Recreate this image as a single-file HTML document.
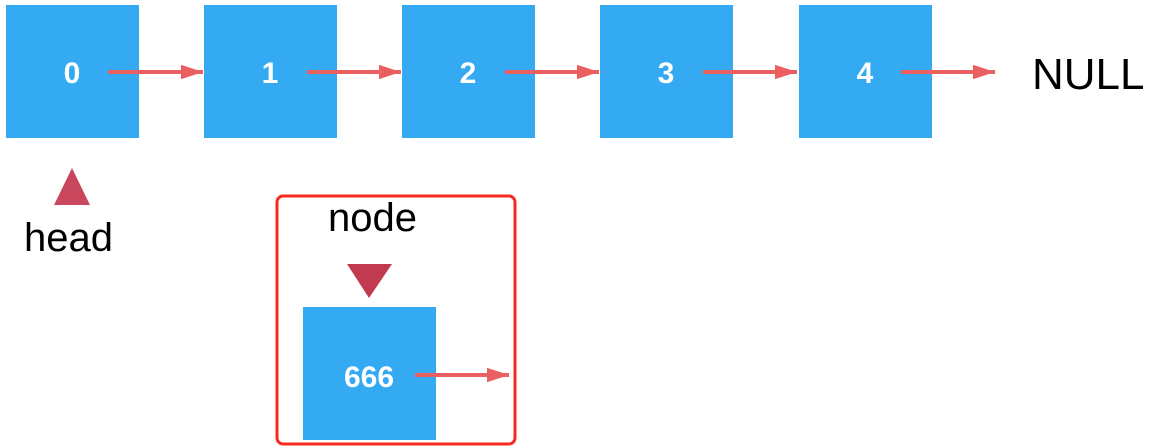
<!DOCTYPE html>
<html><head><meta charset="utf-8"><style>
html,body{margin:0;padding:0;background:#fff;}
svg{display:block;}
</style></head><body>
<svg width="1152" height="448" viewBox="0 0 1152 448" xmlns="http://www.w3.org/2000/svg">
<defs>
<marker id="ah" viewBox="0 0 10 10" refX="10" refY="5" markerWidth="5.5" markerHeight="3.6" markerUnits="strokeWidth" orient="auto" preserveAspectRatio="none">
<path d="M0,0 L10,5 L0,10 z" fill="#ea5f5f"/>
</marker>
</defs>
<g fill="#33aaf2">
<rect x="6" y="5" width="133" height="133"/>
<rect x="204" y="5" width="133" height="133"/>
<rect x="402" y="5" width="133" height="133"/>
<rect x="600" y="5" width="133" height="133"/>
<rect x="799" y="5" width="133" height="133"/>
<rect x="303" y="307" width="133" height="133"/>
</g>
<g font-family="Liberation Sans, sans-serif" font-weight="bold" font-size="30" fill="#fff" text-anchor="middle">
<text x="72" y="83">0</text>
<text x="270" y="83">1</text>
<text x="468" y="83">2</text>
<text x="666" y="83">3</text>
<text x="865" y="83">4</text>
<text x="369" y="387">666</text>
</g>
<g stroke="#ea5f5f" stroke-width="4" fill="none">
<line x1="108" y1="72" x2="203" y2="72" marker-end="url(#ah)"/>
<line x1="307" y1="72" x2="401" y2="72" marker-end="url(#ah)"/>
<line x1="505" y1="72" x2="599" y2="72" marker-end="url(#ah)"/>
<line x1="703" y1="72" x2="797" y2="72" marker-end="url(#ah)"/>
<line x1="901" y1="72" x2="995" y2="72" marker-end="url(#ah)"/>
<line x1="415" y1="375" x2="509" y2="375" marker-end="url(#ah)"/>
</g>
<g font-family="Liberation Sans, sans-serif" fill="#000">
<text x="1032" y="89" font-size="44">NULL</text>
<text x="24" y="251" font-size="40">head</text>
<text x="328" y="231" font-size="40">node</text>
</g>
<polygon points="72,168 90,205 54,205" fill="#c9485e"/>
<polygon points="347,264 392,264 369,298" fill="#c23a50"/>
<rect x="277" y="196" width="238" height="248" rx="6" ry="6" fill="none" stroke="#f52b22" stroke-width="3"/>
</svg>
</body></html>
